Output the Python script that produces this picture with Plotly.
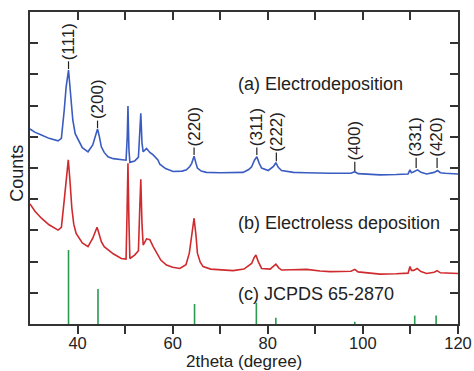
import plotly.graph_objects as go

# ---- data ----
two_theta_a = [30, 31, 32.4, 34, 35.9, 36.6, 37.2, 37.6, 38.1, 38.5, 39.0, 39.5, 40.1, 41, 42.2, 43.2, 43.8, 44.2,
               44.6, 45.0, 45.6, 46.4, 47.5, 49.2, 50.2, 50.45, 50.6, 50.8, 51.0, 52.0, 52.8, 53.1, 53.3, 53.55,
               53.8, 54.5, 55.2, 55.9, 56.9, 57.3, 58.5, 60.1, 62.0, 62.9, 63.6, 64.0, 64.5, 64.9, 65.2, 66, 67.1,
               70, 72, 74.8, 76.0, 76.6, 77.2, 77.7, 78.2, 78.7, 80.1, 81.2, 81.7, 82.2, 82.9, 85.4, 88, 90, 93.1,
               97.5, 98.3, 99, 103.6, 107, 109.5, 109.9, 110.2, 110.6, 111.5, 112.2, 113.4, 115, 115.7, 116.3,
               117.3, 120]
counts_a = [6.25, 6.15, 6.06, 5.95, 5.87, 5.95, 6.86, 7.6, 8.14, 7.5, 6.54, 6.1, 5.9, 5.65, 5.52, 5.74, 6.05, 6.25,
            6.0, 5.68, 5.5, 5.36, 5.3, 5.26, 5.25, 6.0, 6.99, 5.6, 5.18, 5.22, 5.35, 6.2, 6.75, 5.8,
            5.52, 5.63, 5.5, 5.42, 5.26, 5.12, 4.98, 4.89, 4.9, 4.94, 5.05, 5.15, 5.38, 5.15, 5.0, 4.9, 4.86,
            4.85, 4.86, 4.86, 4.95, 5.04, 5.25, 5.36, 5.15, 5.0, 4.92, 5.05, 5.17, 5.02, 4.92, 4.86, 4.85, 4.84, 4.83,
            4.83, 4.88, 4.82, 4.78, 4.79, 4.81, 4.94, 4.85, 4.87, 4.94, 4.86, 4.81, 4.86, 4.92, 4.85,
            4.83, 4.81]

two_theta_b = [30, 31, 32.4, 34, 35.9, 36.6, 37.2, 37.6, 38.05, 38.4, 38.8, 39.2, 39.7, 41, 42.2, 43.2, 43.7, 44.1,
               44.5, 45.0, 45.6, 46.4, 47.5, 49.2, 50.2, 50.4, 50.6, 50.8, 51.0, 52.0, 52.8, 53.1, 53.3, 53.55,
               53.8, 54.5, 55.2, 55.9, 56.6, 57.5, 58.7, 60, 61.5, 62.8, 63.5, 64.0, 64.5, 64.9, 65.2, 65.8, 66.4,
               68, 70, 72.7, 75, 76.6, 77.1, 77.5, 78, 78.7, 80.5, 81.7, 82.3, 82.9, 85, 88.2, 91, 93.1,
               97.5, 98.3, 99, 103.6, 107, 109.5, 109.9, 110.2, 110.7, 111.4, 112.2, 113.4, 115, 115.6, 116.3,
               118, 120]
counts_b = [3.85, 3.62, 3.39, 3.18, 3.01, 3.1, 3.97, 4.7, 5.26, 4.6, 3.71, 3.2, 2.9, 2.6, 2.48, 2.75, 2.95, 3.1,
            2.9, 2.64, 2.48, 2.37, 2.25, 2.1, 2.08, 3.5, 5.15, 3.3, 2.1, 2.21, 2.35, 3.8, 4.64, 3.2,
            2.53, 2.73, 2.7, 2.48, 2.27, 2.05, 1.89, 1.82, 1.78, 1.9, 2.27, 2.9, 3.39, 2.85, 2.27, 1.98, 1.84,
            1.76, 1.73, 1.71, 1.76, 1.94, 2.12, 2.21, 2.0, 1.78, 1.76, 1.92, 1.8, 1.73, 1.74, 1.75, 1.7, 1.68,
            1.69, 1.75, 1.67, 1.6, 1.61, 1.63, 1.84, 1.72, 1.72, 1.78, 1.68, 1.62, 1.66, 1.71, 1.64,
            1.62, 1.62]

ref_two_theta = [38.1, 44.3, 64.6, 77.6, 81.7, 98.3, 110.9, 115.4]
ref_intensity = [2.37, 1.12, 0.64, 0.68, 0.2, 0.07, 0.27, 0.27]

hkl_labels = ["(111)", "(200)", "(220)", "(311)", "(222)", "(400)", "(331)", "(420)"]
hkl_two_theta = [38.1, 44.2, 64.5, 77.7, 81.8, 98.3, 111.2, 115.6]
hkl_tick_low = [8.17, 6.28, 5.42, 5.42, 5.22, 4.90, 5.00, 5.00]
hkl_tick_high = [8.42, 6.52, 5.66, 5.66, 5.50, 5.20, 5.33, 5.33]

series_names = ["(a) Electrodeposition", "(b) Electroless deposition", "(c) JCPDS 65-2870"]
series_label_y = [7.69, 3.24, 0.96]
x_ticks = [40, 50, 60, 70, 80, 90, 100, 110, 120]
x_ticktext = ["40", "", "60", "", "80", "", "100", "", "120"]
x_title = "2theta (degree)"
y_title = "Counts"

BLUE = "#3a5cc0"
RED = "#cf2a2e"
GREEN = "#2a9a50"
INK = "#222222"
FONT = "Liberation Sans, Arial, sans-serif"

fig = go.Figure()
fig.add_trace(go.Scatter(x=two_theta_a, y=counts_a, mode="lines",
                         line=dict(color=BLUE, width=1.6), hoverinfo="skip", showlegend=False))
fig.add_trace(go.Scatter(x=two_theta_b, y=counts_b, mode="lines",
                         line=dict(color=RED, width=1.6), hoverinfo="skip", showlegend=False))

sx, sy = [], []
for t, h in zip(ref_two_theta, ref_intensity):
    sx += [t, t, None]
    sy += [0, h, None]
fig.add_trace(go.Scatter(x=sx, y=sy, mode="lines", line=dict(color=GREEN, width=1.6),
                         hoverinfo="skip", showlegend=False))

tx, ty = [], []
for t, lo, hi in zip(hkl_two_theta, hkl_tick_low, hkl_tick_high):
    tx += [t, t, None]
    ty += [lo, hi, None]
fig.add_trace(go.Scatter(x=tx, y=ty, mode="lines", line=dict(color=INK, width=1.2),
                         hoverinfo="skip", showlegend=False))

# invisible trace for the top axis (inside ticks)
fig.add_trace(go.Scatter(x=[30, 120], y=[0, 0], xaxis="x2", mode="lines",
                         line=dict(width=0), opacity=0, hoverinfo="skip", showlegend=False))

annotations = []
for lab, t, hi in zip(hkl_labels, hkl_two_theta, hkl_tick_high):
    annotations.append(dict(x=t, y=hi, xref="x", yref="y", text=lab, textangle=-90,
                            showarrow=False, xanchor="center", yanchor="bottom",
                            font=dict(family=FONT, size=17, color=INK), borderpad=0))
for name, yv in zip(series_names, series_label_y):
    annotations.append(dict(x=73.3, y=yv, xref="x", yref="y", text=name, showarrow=False,
                            xanchor="left", yanchor="middle",
                            font=dict(family=FONT, size=18, color=INK)))
# axis titles
annotations.append(dict(x=0.5, y=-0.1202, xref="paper", yref="paper", text=x_title, showarrow=False,
                        xanchor="center", yanchor="middle", borderpad=0,
                        font=dict(family=FONT, size=17, color=INK)))
annotations.append(dict(x=-0.031, y=0.484, xref="paper", yref="paper", text=y_title, showarrow=False,
                        textangle=-90, xanchor="center", yanchor="middle",
                        font=dict(family=FONT, size=18, color=INK)))

fig.update_layout(
    width=474, height=371,
    margin=dict(l=30, r=16, t=12, b=47, autoexpand=False),
    paper_bgcolor="white", plot_bgcolor="white",
    font=dict(family=FONT, size=18, color=INK),
    annotations=annotations,
    xaxis=dict(range=[30, 120], tickvals=x_ticks, ticktext=x_ticktext, ticks="outside",
               ticklen=8, tickwidth=1.5, tickcolor="#333", showline=True, linecolor="#333",
               linewidth=1.5, mirror=True, showgrid=False, zeroline=False, automargin=False,
               ticklabelstandoff=-5,
               tickfont=dict(family=FONT, size=16.5, color=INK)),
    xaxis2=dict(range=[30, 120], overlaying="x", side="top", anchor="y", tickvals=x_ticks,
                ticks="inside", ticklen=8, tickwidth=1.5, tickcolor="#333", automargin=False,
                showticklabels=False, showline=False, showgrid=False, zeroline=False),
    yaxis=dict(range=[0, 10], dtick=1, tick0=0, ticks="inside", ticklen=8, tickwidth=1.5,
               tickcolor="#333", showticklabels=False, showline=True, linecolor="#333",
               linewidth=1.5, mirror="ticks", showgrid=False, zeroline=False, automargin=False),
)

fig.write_html("out.html")
